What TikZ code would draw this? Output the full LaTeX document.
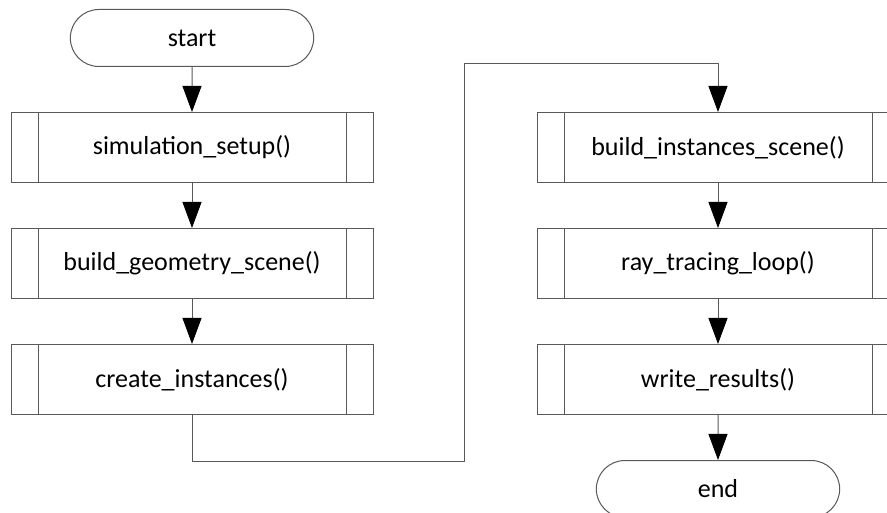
\documentclass[tikz,border=0pt]{standalone}
\usepackage{fontspec}
\setmainfont{Carlito}
\usepackage{tikz}
\usetikzlibrary{shapes.misc, arrows.meta, positioning, calc}
\tikzstyle{terminal} = [rounded rectangle, minimum width=250pt, minimum height=57pt, text centered, draw=black!65, line width=1pt, fill=white]
\tikzstyle{subproc} = [rectangle, minimum width=362pt, minimum height=70pt, text centered, draw=black!65, line width=1pt, fill=white,
  path picture={\draw[black!65, line width=1pt] ([xshift=27pt]path picture bounding box.north west) -- ([xshift=27pt]path picture bounding box.south west);
                \draw[black!65, line width=1pt] ([xshift=-27pt]path picture bounding box.north east) -- ([xshift=-27pt]path picture bounding box.south east);}]
\tikzstyle{arrow} = [draw=black!65, line width=1pt, -{Triangle[length=26pt, width=19pt, color=black]}]

\begin{document}
\begin{tikzpicture}[x=1pt, y=-1pt, node distance=45pt, font=\fontsize{26}{31}\selectfont]
\useasboundingbox (0,0) rectangle (887,513);
\clip (0,0) rectangle (887,513);

% Nodes
\node (start) [terminal] at (192,38) {start};
\node (setup) [subproc, below=of start] {simulation\_setup()};
\node (geom) [subproc, below=of setup] {build\_geometry\_scene()};
\node (inst) [subproc, below=of geom] {create\_instances()};

\node (iscene) [subproc, right=163pt of setup] {build\_instances\_scene()};
\node (rtloop) [subproc, below=of iscene] {ray\_tracing\_loop()};
\node (write) [subproc, below=of rtloop] {write\_results()};
\node (end) [terminal, below=of write] {end};

\coordinate (low) at (464,461);
\coordinate (high) at (464,64);

% Arrows
\draw [arrow] (start) -- (setup);
\draw [arrow] (setup) -- (geom);
\draw [arrow] (geom) -- (inst);
\draw [arrow] (inst.south) |- (low) -- (high) -| (iscene.north);
\draw [arrow] (iscene) -- (rtloop);
\draw [arrow] (rtloop) -- (write);
\draw [arrow] (write) -- (end);

\end{tikzpicture}
\end{document}
